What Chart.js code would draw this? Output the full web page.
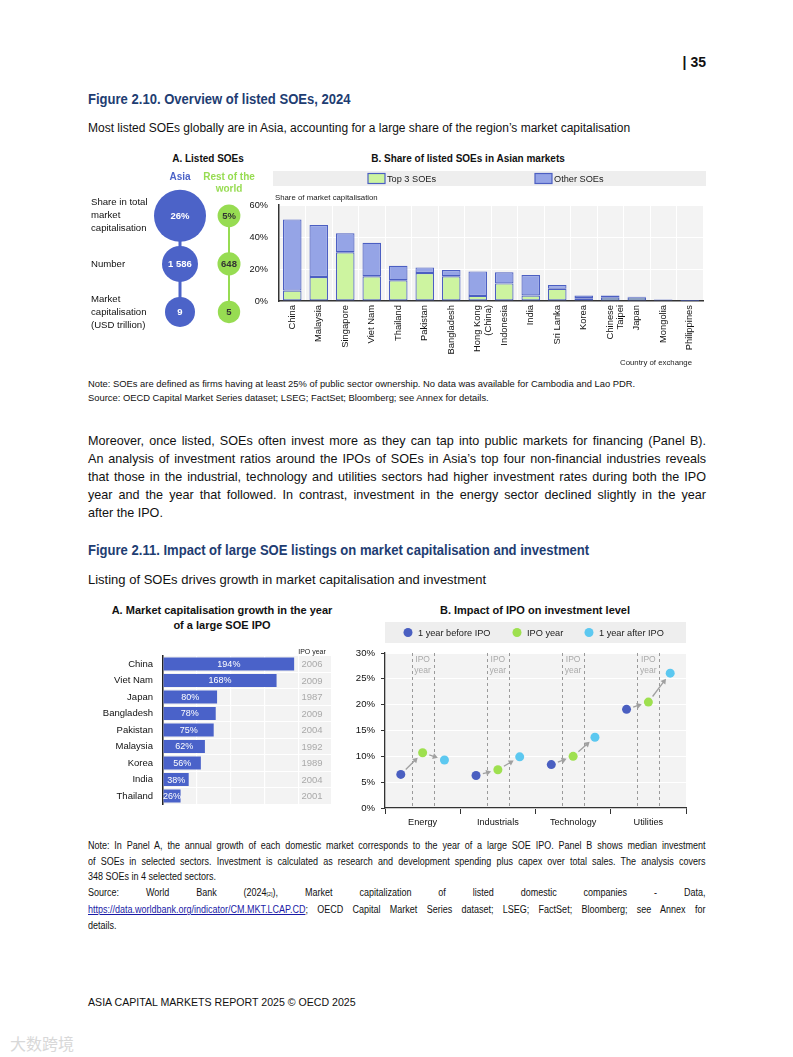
<!DOCTYPE html>
<html lang="en">
<head>
<meta charset="utf-8">
<title>Asia Capital Markets Report 2025 – page 35</title>
<script src="https://cdn.jsdelivr.net/npm/chart.js@4.4.1/dist/chart.umd.min.js"></script>
<style>
  html, body { margin: 0; background: #fff; }
  #page { position: relative; width: 793px; height: 1057px; overflow: hidden;
          font-family: "Liberation Sans", Arial, sans-serif; color: #111; }
  .txt { position: absolute; white-space: nowrap; }
  .page-no { right: 87px; top: 54px; font-weight: bold; font-size: 14px; line-height: 16px; }
  .fig-title { left: 88px; font-weight: bold; font-size: 14.5px; line-height: 17px; color: #1e3d72;
               transform: scaleX(0.9); transform-origin: left center; }
  .subtitle { left: 88px; line-height: 15px; }
  .panel-title { position: absolute; font-weight: bold; line-height: 15px; text-align: center; }
  .note { position: absolute; left: 88px; font-size: 9.4px; line-height: 14px; white-space: nowrap; }
  .block { position: absolute; left: 88px; width: 618px; }
  .block div { text-align: justify; text-align-last: justify; }
  .block div.last { text-align-last: left; }
  .body-text { font-size: 12.6px; line-height: 18px; }
  .note-block { width: 686px; font-size: 10px; line-height: 15.5px; transform: scaleX(0.9); transform-origin: left top; }
  .note-block a { color: #1a1aa6; text-decoration: underline; }
  .note-block sub { font-size: 6px; vertical-align: baseline; }
  .footer { left: 88px; top: 996px; font-size: 10.6px; line-height: 12px; }
  .watermark { left: 10px; top: 1033px; font: 16px/20px "Noto Sans CJK SC", sans-serif; color: #d8d8d8; }
  .chart { position: absolute; }
</style>
</head>
<body>
<div id="page">
  <div class="txt page-no">| 35</div>

  <div class="txt fig-title" style="top:91px">Figure 2.10. Overview of listed SOEs, 2024</div>
  <div class="txt subtitle" style="top:121px;font-size:12px">Most listed SOEs globally are in Asia, accounting for a large share of the region’s market capitalisation</div>

  <div class="panel-title" style="left:148px;top:151px;width:120px;font-size:10px">A. Listed SOEs</div>
  <div class="panel-title" style="left:358px;top:151px;width:220px;font-size:10px">B. Share of listed SOEs in Asian markets</div>

  <div class="chart" style="left:240px;top:165px;width:472px;height:205px"><canvas id="chart-soe-share"></canvas></div>
  <div class="chart" style="left:85px;top:165px;width:200px;height:197px"><canvas id="chart-soe-overview"></canvas></div>

  <div class="note" style="top:377px">Note: SOEs are defined as firms having at least 25% of public sector ownership. No data was available for Cambodia and Lao PDR.</div>
  <div class="note" style="top:391px">Source: OECD Capital Market Series dataset; LSEG; FactSet; Bloomberg; see Annex for details.</div>

  <div class="block body-text" style="top:432px">
    <div>Moreover, once listed, SOEs often invest more as they can tap into public markets for financing (Panel B).</div>
    <div>An analysis of investment ratios around the IPOs of SOEs in Asia’s top four non-financial industries reveals</div>
    <div>that those in the industrial, technology and utilities sectors had higher investment rates during both the IPO</div>
    <div>year and the year that followed. In contrast, investment in the energy sector declined slightly in the year</div>
    <div class="last">after the IPO.</div>
  </div>

  <div class="txt fig-title" style="top:542px">Figure 2.11. Impact of large SOE listings on market capitalisation and investment</div>
  <div class="txt subtitle" style="top:572px;font-size:13px">Listing of SOEs drives growth in market capitalisation and investment</div>

  <div class="panel-title" style="left:92px;top:603px;width:260px;font-size:11px">A. Market capitalisation growth in the year<br>of a large SOE IPO</div>
  <div class="panel-title" style="left:425px;top:603px;width:220px;font-size:11px">B. Impact of IPO on investment level</div>

  <div class="chart" style="left:95px;top:640px;width:245px;height:180px"><canvas id="chart-ipo-growth"></canvas></div>
  <div class="chart" style="left:345px;top:615px;width:350px;height:220px"><canvas id="chart-investment"></canvas></div>

  <div class="block note-block" style="top:838px">
    <div>Note: In Panel A, the annual growth of each domestic market corresponds to the year of a large SOE IPO. Panel B shows median investment</div>
    <div>of SOEs in selected sectors. Investment is calculated as research and development spending plus capex over total sales. The analysis covers</div>
    <div class="last">348 SOEs in 4 selected sectors.</div>
    <div>Source: World Bank (2024<sub>[2]</sub>), Market capitalization of listed domestic companies - Data,</div>
    <div><a>https://data.worldbank.org/indicator/CM.MKT.LCAP.CD</a>; OECD Capital Market Series dataset; LSEG; FactSet; Bloomberg; see Annex for</div>
    <div class="last">details.</div>
  </div>

  <div class="txt footer">ASIA CAPITAL MARKETS REPORT 2025 © OECD 2025</div>
  <div class="txt watermark">大数跨境</div>
</div>

<script>
/* ========================================================================
   Figures 2.10 and 2.11 — listed SOEs in Asia
   ======================================================================== */

/* ---------- data ---------- */
const soeColumns = ['Asia', 'Rest of the world'];
const soeRows = ['Share in total market capitalisation', 'Number', 'Market capitalisation (USD trillion)'];
const asiaValues = [26, 1586, 9];
const restOfWorldValues = [5, 648, 5];

const exchangeCountries = ['China', 'Malaysia', 'Singapore', 'Viet Nam', 'Thailand', 'Pakistan', 'Bangladesh',
  'Hong Kong (China)', 'Indonesia', 'India', 'Sri Lanka', 'Korea', 'Chinese Taipei', 'Japan', 'Mongolia', 'Philippines'];
const top3Share = [6.5, 15, 30.5, 15.5, 13, 17.5, 15.5, 3.2, 11, 3.4, 7.6, 1.7, 2.1, 2.1, 0.3, 0.2];
const otherShare = [44.5, 32.5, 11.8, 20.9, 9, 3.5, 3.9, 15.3, 7, 12.8, 2.4, 1.7, 1.3, 0.6, 0.7, 0.4];
const shareTicks = [0, 20, 40, 60];

const ipoMarkets = ['China', 'Viet Nam', 'Japan', 'Bangladesh', 'Pakistan', 'Malaysia', 'Korea', 'India', 'Thailand'];
const marketCapGrowth = [194, 168, 80, 78, 75, 62, 56, 38, 26];
const ipoYears = [2006, 2009, 1987, 2009, 2004, 1992, 1989, 2004, 2001];
const growthTicks = [0, 50, 100, 150, 200, 250];

const sectors = ['Energy', 'Industrials', 'Technology', 'Utilities'];
const investBefore = [6.5, 6.3, 8.4, 19.1];
const investIpoYear = [10.7, 7.4, 10.0, 20.5];
const investAfter = [9.3, 9.9, 13.7, 26.1];
const investTicks = [0, 5, 10, 15, 20, 25, 30];

/* ---------- shared look ---------- */
const FONT = '"Liberation Sans", Arial, sans-serif';
const palette = {
  asia: '#4c63c8',
  rest: '#97dc52',
  top3: '#cdf4a0',
  other: '#95a4e6',
  barEdge: '#4c5fc2',
  growth: '#4a62c9',
  before: '#4a5fc1',
  ipo: '#9ee04f',
  after: '#5cc8f0',
  plot: '#f3f3f3',
  band: '#eeeeee',
  axis: '#333333',
  ink: '#1a1a1a'
};

document.addEventListener('DOMContentLoaded', () => {
  if (typeof Chart === 'undefined') { console.warn('Chart.js missing'); return; }
  Chart.defaults.font.family = FONT;
  Chart.defaults.color = palette.ink;
  Chart.defaults.animation = false;
  Chart.defaults.events = [];
  Chart.defaults.plugins.legend.display = false;
  Chart.defaults.plugins.tooltip.enabled = false;

  try { initSoeOverview(); } catch (err) { console.error('soe overview:', err); }
  try { initSoeShare(); } catch (err) { console.error('soe share:', err); }
  try { initIpoGrowth(); } catch (err) { console.error('ipo growth:', err); }
  try { initInvestment(); } catch (err) { console.error('investment:', err); }
});

/* ---------- helpers ---------- */
function wrapLabel(text, maxChars) {
  const lines = [];
  let line = '';
  text.split(' ').forEach(word => {
    if (line && (line + ' ' + word).length > maxChars) { lines.push(line); line = word; }
    else line = line ? line + ' ' + word : word;
  });
  if (line) lines.push(line);
  return lines;
}

function padLines(lines, count) {
  while (lines.length < count) lines.push('');
  return lines;
}

const groupThousands = v => String(v).replace(/\B(?=(\d{3})+(?!\d))/g, ' ');

function plotBackground(color) {
  return {
    id: 'plotBackground',
    beforeDraw(chart) {
      const { ctx, chartArea: a } = chart;
      ctx.save();
      ctx.fillStyle = color;
      ctx.fillRect(a.left, a.top, a.right - a.left, a.bottom - a.top);
      ctx.restore();
    }
  };
}

// gray strip above the plot with hand placed legend entries
function bandLegend(cfg) {
  return {
    id: 'bandLegend',
    afterDraw(chart) {
      const { ctx, chartArea: a } = chart;
      const cy = cfg.top + cfg.height / 2;
      ctx.save();
      ctx.fillStyle = palette.band;
      ctx.fillRect(a.left - cfg.extendLeft, cfg.top, a.right - a.left + cfg.extendLeft + cfg.extendRight, cfg.height);
      ctx.font = cfg.fontSize + 'px ' + FONT;
      ctx.textBaseline = 'middle';
      cfg.items.forEach(item => {
        const ds = chart.data.datasets[item.dataset];
        const x = a.left + item.offset;
        let textX;
        if (cfg.marker === 'box') {
          ctx.fillStyle = ds.backgroundColor;
          ctx.fillRect(x, cy - 5, 17, 10);
          ctx.strokeStyle = ds.borderColor;
          ctx.lineWidth = 1.2;
          ctx.strokeRect(x, cy - 5, 17, 10);
          textX = x + 19;
        } else {
          ctx.fillStyle = ds.backgroundColor;
          ctx.beginPath();
          ctx.arc(x, cy, 4.5, 0, Math.PI * 2);
          ctx.fill();
          textX = x + 10;
        }
        ctx.fillStyle = '#222';
        ctx.textAlign = 'left';
        ctx.fillText(ds.label, textX, cy + 0.5);
      });
      ctx.restore();
    }
  };
}

/* ---------- Figure 2.10 A: bubbles ---------- */
function initSoeOverview() {
  const rowRadius = [26, 18, 15];
  const rowMax = soeRows.map((_, i) => Math.max(asiaValues[i], restOfWorldValues[i]));
  const rowFormat = [v => v + '%', groupThousands, v => String(v)];
  const radius = ctx => rowRadius[ctx.dataIndex] * Math.sqrt(ctx.raw.v / rowMax[ctx.dataIndex]);

  const columnData = (values, column) => values.map((v, i) => ({ x: column, y: soeRows[i], v }));

  const connectors = {
    id: 'connectors',
    beforeDatasetsDraw(chart) {
      const { ctx } = chart;
      chart.data.datasets.forEach((ds, d) => {
        const pts = chart.getDatasetMeta(d).data;
        ctx.save();
        ctx.strokeStyle = ds.backgroundColor;
        ctx.lineWidth = d === 0 ? 3 : 2;
        ctx.beginPath();
        ctx.moveTo(pts[0].x, pts[0].y);
        ctx.lineTo(pts[pts.length - 1].x, pts[pts.length - 1].y);
        ctx.stroke();
        ctx.restore();
      });
    },
    afterDatasetsDraw(chart) {
      const { ctx } = chart;
      ctx.save();
      ctx.font = 'bold 9.5px ' + FONT;
      ctx.textAlign = 'center';
      ctx.textBaseline = 'middle';
      chart.data.datasets.forEach((ds, d) => {
        chart.getDatasetMeta(d).data.forEach((pt, i) => {
          ctx.fillStyle = d === 0 ? '#ffffff' : '#333333';
          ctx.fillText(rowFormat[i](ds.data[i].v), pt.x, pt.y + 0.5);
        });
      });
      ctx.restore();
    }
  };

  new Chart(document.getElementById('chart-soe-overview'), {
    type: 'bubble',
    data: {
      datasets: [
        { label: soeColumns[0], data: columnData(asiaValues, soeColumns[0]),
          backgroundColor: palette.asia, borderWidth: 0, radius, clip: false },
        { label: soeColumns[1], data: columnData(restOfWorldValues, soeColumns[1]),
          backgroundColor: palette.rest, borderWidth: 0, radius, clip: false }
      ]
    },
    options: {
      responsive: true,
      maintainAspectRatio: false,
      layout: { padding: { left: 6, right: 31.5, top: 0, bottom: 0 } },
      scales: {
        x: {
          type: 'category', labels: soeColumns, position: 'top', offset: true,
          grid: { display: false, drawTicks: false }, border: { display: false },
          ticks: {
            autoSkip: false, maxRotation: 0, minRotation: 0, padding: -3,
            font: { size: 10, weight: 'bold', lineHeight: 1.15 },
            color: [palette.asia, palette.rest],
            callback: (v, i) => padLines(wrapLabel(soeColumns[i], 11), 2)
          },
          afterFit: s => { s.height = 26.75; }
        },
        y: {
          type: 'category', labels: soeRows, offset: true,
          grid: { display: false, drawTicks: false }, border: { display: false },
          ticks: {
            crossAlign: 'far', padding: 0, autoSkip: false,
            font: { size: 9.6, lineHeight: 1.35 }, color: '#111',
            callback: (v, i) => wrapLabel(soeRows[i], 14)
          },
          afterFit: s => { s.width = 64.5; }
        }
      }
    },
    plugins: [connectors]
  });
}

/* ---------- Figure 2.10 B: stacked bars ---------- */
function initSoeShare() {
  const axisNotes = {
    id: 'axisNotes',
    afterDraw(chart) {
      const { ctx, chartArea: a } = chart;
      ctx.save();
      ctx.font = '7.8px ' + FONT;
      ctx.fillStyle = '#222';
      ctx.textBaseline = 'middle';
      ctx.textAlign = 'left';
      ctx.fillText('Share of market capitalisation', a.left - 4, a.top - 7);
      ctx.textAlign = 'right';
      ctx.fillText('Country of exchange', a.right - 11, chart.height - 7);
      ctx.restore();
    }
  };

  new Chart(document.getElementById('chart-soe-share'), {
    type: 'bar',
    data: {
      labels: exchangeCountries,
      datasets: [
        { label: 'Top 3 SOEs', data: top3Share, backgroundColor: palette.top3, borderColor: palette.barEdge,
          borderWidth: 1.2, borderSkipped: false, categoryPercentage: 1, barPercentage: 0.7 },
        { label: 'Other SOEs', data: otherShare, backgroundColor: palette.other, borderColor: palette.barEdge,
          borderWidth: 1.2, borderSkipped: false, categoryPercentage: 1, barPercentage: 0.7 }
      ]
    },
    options: {
      responsive: true,
      maintainAspectRatio: false,
      layout: { padding: { left: 0, right: 9, top: 40, bottom: 0 } },
      scales: {
        x: {
          stacked: true,
          grid: { color: '#ffffff', lineWidth: 1, drawTicks: false },
          border: { color: palette.axis, width: 1.5 },
          ticks: {
            autoSkip: false, minRotation: 90, maxRotation: 90, padding: 4,
            font: { size: 9.4, lineHeight: 1.1 }, color: '#111',
            callback: (v, i) => wrapLabel(exchangeCountries[i], 10)
          },
          afterFit: s => { s.height = 69; }
        },
        y: {
          stacked: true, min: 0, max: 60,
          afterBuildTicks: s => { s.ticks = shareTicks.map(value => ({ value })); },
          grid: { color: '#ffffff', lineWidth: 1, drawTicks: false },
          border: { color: palette.axis, width: 1.5 },
          ticks: { padding: 11, font: { size: 9.2 }, color: '#111', callback: v => v + '%' },
          afterFit: s => { s.width = 39; }
        }
      }
    },
    plugins: [
      plotBackground(palette.plot),
      axisNotes,
      bandLegend({ top: 6, height: 15, extendLeft: 6, extendRight: 3, marker: 'box', fontSize: 9.2,
        items: [{ dataset: 0, offset: 89 }, { dataset: 1, offset: 256 }] })
    ]
  });
}

/* ---------- Figure 2.11 A: horizontal bars ---------- */
function initIpoGrowth() {
  const barLabels = {
    id: 'barLabels',
    afterDatasetsDraw(chart) {
      const { ctx, chartArea: a } = chart;
      const bars = chart.getDatasetMeta(0).data;
      const yearX = a.right - 20;
      ctx.save();
      ctx.textAlign = 'center';
      ctx.textBaseline = 'middle';
      bars.forEach((bar, i) => {
        ctx.font = '9px ' + FONT;
        ctx.fillStyle = '#ffffff';
        ctx.fillText(marketCapGrowth[i] + '%', (bar.base + bar.x) / 2, bar.y + 0.5);
        ctx.font = '9.5px ' + FONT;
        ctx.fillStyle = '#a9a9a9';
        ctx.fillText(String(ipoYears[i]), yearX, bar.y + 0.5);
      });
      ctx.font = '7px ' + FONT;
      ctx.fillStyle = '#222';
      ctx.fillText('IPO year', yearX, a.top - 4);
      ctx.restore();
    }
  };

  new Chart(document.getElementById('chart-ipo-growth'), {
    type: 'bar',
    data: {
      labels: ipoMarkets,
      datasets: [{ data: marketCapGrowth, backgroundColor: palette.growth, borderWidth: 0,
        categoryPercentage: 0.78, barPercentage: 1 }]
    },
    options: {
      indexAxis: 'y',
      responsive: true,
      maintainAspectRatio: false,
      layout: { padding: { left: 0, right: 8, top: 10, bottom: 7 } },
      scales: {
        x: {
          min: 0, max: 250,
          afterBuildTicks: s => { s.ticks = growthTicks.map(value => ({ value })); },
          grid: { color: '#ffffff', lineWidth: 1.2, drawTicks: false },
          border: { display: false },
          ticks: { display: false },
          afterFit: s => { s.height = 0; }
        },
        y: {
          grid: { color: '#ffffff', lineWidth: 1, drawTicks: false },
          border: { color: '#222', width: 1.5 },
          ticks: { padding: 10, font: { size: 9.5 }, color: '#111' },
          afterFit: s => { s.width = 68; }
        }
      }
    },
    plugins: [plotBackground(palette.plot), barLabels]
  });
}

/* ---------- Figure 2.11 B: points before / during / after the IPO ---------- */
function initInvestment() {
  const spread = 0.29;          // gap between the three yearly points, in sector widths
  const asPoints = (values, k) => values.map((y, i) => ({ x: i + 0.5 + (k - 1) * spread, y }));

  const ipoGuides = {
    id: 'ipoGuides',
    beforeDatasetsDraw(chart) {
      const { ctx, chartArea: a, scales } = chart;
      ctx.save();
      // dashed frame round the IPO year
      ctx.strokeStyle = '#9a9a9a';
      ctx.lineWidth = 1;
      ctx.setLineDash([3, 3]);
      sectors.forEach((_, i) => {
        [-spread / 2, spread / 2].forEach(off => {
          const x = Math.round(scales.x.getPixelForValue(i + 0.5 + off)) + 0.5;
          ctx.beginPath();
          ctx.moveTo(x, a.top);
          ctx.lineTo(x, a.bottom);
          ctx.stroke();
        });
        const cx = scales.x.getPixelForValue(i + 0.5);
        ctx.font = '8.5px ' + FONT;
        ctx.fillStyle = '#aaaaaa';
        ctx.textAlign = 'center';
        ctx.textBaseline = 'middle';
        ctx.fillText('IPO', cx, a.top + 7);
        ctx.fillText('year', cx, a.top + 18);
      });
      ctx.setLineDash([]);

      // arrows between consecutive years
      ctx.strokeStyle = '#a0a0a0';
      ctx.fillStyle = '#a0a0a0';
      ctx.lineWidth = 1.3;
      const metas = [0, 1, 2].map(d => chart.getDatasetMeta(d).data);
      sectors.forEach((_, i) => {
        for (let d = 0; d < 2; d++) {
          const p = metas[d][i], q = metas[d + 1][i];
          const dx = q.x - p.x, dy = q.y - p.y;
          const len = Math.hypot(dx, dy);
          const ux = dx / len, uy = dy / len;
          const sx = p.x + ux * 7, sy = p.y + uy * 7;
          const ex = q.x - ux * 7, ey = q.y - uy * 7;
          ctx.beginPath();
          ctx.moveTo(sx, sy);
          ctx.lineTo(ex - ux * 3, ey - uy * 3);
          ctx.stroke();
          ctx.beginPath();
          ctx.moveTo(ex, ey);
          ctx.lineTo(ex - ux * 5 - uy * 3, ey - uy * 5 + ux * 3);
          ctx.lineTo(ex - ux * 5 + uy * 3, ey - uy * 5 - ux * 3);
          ctx.closePath();
          ctx.fill();
        }
      });
      ctx.restore();
    }
  };

  const pointStyle = color => ({ backgroundColor: color, borderWidth: 0, pointRadius: 4.5, clip: false });

  new Chart(document.getElementById('chart-investment'), {
    type: 'scatter',
    data: {
      datasets: [
        { label: '1 year before IPO', data: asPoints(investBefore, 0), ...pointStyle(palette.before) },
        { label: 'IPO year', data: asPoints(investIpoYear, 1), ...pointStyle(palette.ipo) },
        { label: '1 year after IPO', data: asPoints(investAfter, 2), ...pointStyle(palette.after) }
      ]
    },
    options: {
      responsive: true,
      maintainAspectRatio: false,
      layout: { padding: { left: 0, right: 9, top: 38, bottom: 0 } },
      scales: {
        x: { type: 'linear', min: 0, max: sectors.length, display: false },
        sector: {
          type: 'category', labels: sectors, position: 'bottom', offset: true,
          grid: { offset: true, drawOnChartArea: false, tickLength: 6, tickColor: palette.axis },
          border: { color: palette.axis, width: 1.3 },
          ticks: { padding: 3, font: { size: 9.2 }, color: '#111' },
          afterFit: s => { s.height = 27; }
        },
        y: {
          min: 0, max: 30,
          afterBuildTicks: s => { s.ticks = investTicks.map(value => ({ value })); },
          grid: { color: '#ffffff', lineWidth: 1, tickLength: 4, tickColor: palette.axis },
          border: { color: palette.axis, width: 1.3 },
          ticks: { padding: 6, font: { size: 9.6 }, color: '#111', callback: v => v + '%' },
          afterFit: s => { s.width = 40; }
        }
      }
    },
    plugins: [
      plotBackground(palette.plot),
      ipoGuides,
      bandLegend({ top: 7, height: 21, extendLeft: 0, extendRight: 0, marker: 'dot', fontSize: 9.2,
        items: [{ dataset: 0, offset: 23 }, { dataset: 1, offset: 132 }, { dataset: 2, offset: 204 }] })
    ]
  });
}
</script>
</body>
</html>
